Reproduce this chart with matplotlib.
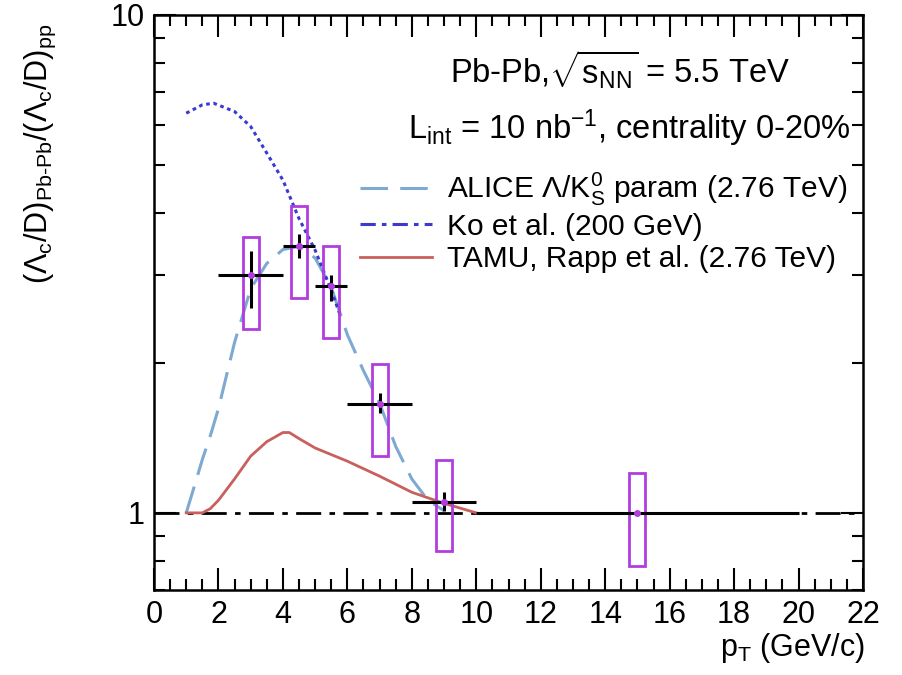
import numpy as np
import matplotlib
matplotlib.use("Agg")
import matplotlib.pyplot as plt
from matplotlib.lines import Line2D
from matplotlib.ticker import FixedLocator, MultipleLocator, NullFormatter, FixedFormatter

plt.rcParams['font.family'] = ['Liberation Sans', 'DejaVu Sans']
plt.rcParams['mathtext.fontset'] = 'custom'
plt.rcParams['mathtext.rm'] = 'Liberation Sans'
plt.rcParams['mathtext.it'] = 'Liberation Sans'
plt.rcParams['mathtext.default'] = 'regular'

# projected Lambda_c/D double ratio, 0-20% Pb-Pb
pt = [3.0, 4.5, 5.5, 7.0, 9.0, 15.0]
pt_halfwidth = [1.0, 0.5, 0.5, 1.0, 1.0, 5.0]
ratio = [3.0, 3.44, 2.85, 1.655, 1.05, 1.0]
stat_lo = [2.58, 3.25, 2.67, 1.59, 1.01, 1.0]
stat_hi = [3.36, 3.63, 3.01, 1.74, 1.10, 1.0]
syst_lo = [2.34, 2.70, 2.24, 1.30, 0.84, 0.783]
syst_hi = [3.59, 4.14, 3.44, 1.99, 1.28, 1.20]

# model curves
alice_pt = [1.0, 1.25, 1.5, 1.75, 2.0, 2.5, 3.0, 3.5, 4.0, 4.5, 5.0, 5.5, 6.0, 6.5, 7.0, 7.5, 8.0, 8.5, 9.0]
alice_r = [1.0, 1.13, 1.28, 1.43, 1.62, 2.2, 2.82, 3.17, 3.38, 3.43, 3.25, 2.84, 2.28, 1.93, 1.66, 1.36, 1.17, 1.06, 1.01]

ko_pt = [1.0, 1.5, 1.85, 2.5, 3.0, 3.5, 4.0, 4.5, 5.0, 5.5, 5.8]
ko_r = [6.35, 6.6, 6.65, 6.4, 5.97, 5.28, 4.66, 3.9, 3.37, 2.80, 2.47]

tamu_pt = [1.0, 1.5, 1.75, 2.0, 2.5, 3.0, 3.5, 4.0, 4.2, 4.5, 5.0, 6.0, 7.0, 8.0, 9.0, 10.0]
tamu_r = [1.0, 1.0, 1.02, 1.06, 1.17, 1.30, 1.39, 1.45, 1.45, 1.41, 1.35, 1.27, 1.185, 1.10, 1.045, 1.0]

unity_pt = [0.0, 22.0]
unity_r = [1.0, 1.0]

c_alice = '#7ea9d2'
c_ko = '#3a3ad0'
c_tamu = '#c8605e'
c_box = '#b13ce0'

fs = 22

fig = plt.figure(figsize=(9.02, 6.75), dpi=100)
ax = fig.add_axes([154/902, 1-590/675, (863-154)/902, (590-15)/675])

ax.plot(unity_pt, unity_r, color='black', lw=2, dashes=(9, 3, 2, 3), zorder=2)
ax.plot(alice_pt, alice_r, color=c_alice, lw=2.2, dashes=(9, 4), zorder=3)
ax.plot(ko_pt, ko_r, color=c_ko, lw=2.2, dashes=(1.2, 1.2), zorder=3)
ax.plot(tamu_pt, tamu_r, color=c_tamu, lw=2, zorder=3)

syst_lo_a = np.array(syst_lo)
syst_hi_a = np.array(syst_hi)
ax.bar(pt, syst_hi_a - syst_lo_a, bottom=syst_lo_a, width=0.5, fill=False,
       edgecolor=c_box, linewidth=2, zorder=4)

r = np.array(ratio)
ax.errorbar(pt, r, xerr=pt_halfwidth, yerr=[r - np.array(stat_lo), np.array(stat_hi) - r],
            fmt='o', ms=4, mfc=c_box, mec=c_box, ecolor='black', elinewidth=2.2,
            capsize=0, zorder=5)

ax.set_yscale('log')
ax.set_xlim(0, 22)
ax.set_ylim(0.7, 10)

ax.xaxis.set_major_locator(MultipleLocator(2))
ax.xaxis.set_minor_locator(MultipleLocator(0.5))
ax.yaxis.set_major_locator(FixedLocator([1, 10]))
ax.yaxis.set_major_formatter(FixedFormatter(['1', '10']))
ax.yaxis.set_minor_locator(FixedLocator([0.7, 0.8, 0.9, 2, 3, 4, 5, 6, 7, 8, 9]))
ax.yaxis.set_minor_formatter(NullFormatter())
ax.tick_params(which='both', direction='in', top=True, right=True, width=1.5, labelsize=fs)
ax.tick_params(which='major', length=16, pad=7)
ax.tick_params(which='minor', length=8)
for s in ax.spines.values():
    s.set_linewidth(1.8)

fig.text(865/902, 1-648/675, r'p$_T$ (GeV/c)', ha='right', va='center', fontsize=fs)
fig.text(40/902, 1-24/675, r'($\Lambda_c$/D)$_{Pb\text{-}Pb}$/($\Lambda_c$/D)$_{pp}$',
         rotation=90, ha='center', va='top', fontsize=fs)

fig.text(790/902, 1-70/675, r'Pb-Pb,$\sqrt{s_{NN}}$ = 5.5 TeV', ha='right', va='center', fontsize=23.5)
fig.text(850/902, 1-128/675, r'L$_{int}$ = 10 nb$^{-1}$, centrality 0-20%',
         ha='right', va='center', fontsize=23.5)

handles = [
    Line2D([], [], color=c_alice, lw=2.2, dashes=(9, 4)),
    Line2D([], [], color=c_ko, lw=2.2, dashes=(5, 2, 1.5, 2)),
    Line2D([], [], color=c_tamu, lw=2),
]
labels = [r'ALICE $\Lambda$/K$^0_S$ param (2.76 TeV)', 'Ko et al. (200 GeV)',
          'TAMU, Rapp et al. (2.76 TeV)']
fig.legend(handles, labels, loc='upper left', bbox_to_anchor=(360/902, 1-171/675),
           frameon=False, fontsize=21.5, handlelength=2.4, handletextpad=0.5,
           labelspacing=0.15, borderpad=0, borderaxespad=0)

fig.savefig('out.png', dpi=100)
